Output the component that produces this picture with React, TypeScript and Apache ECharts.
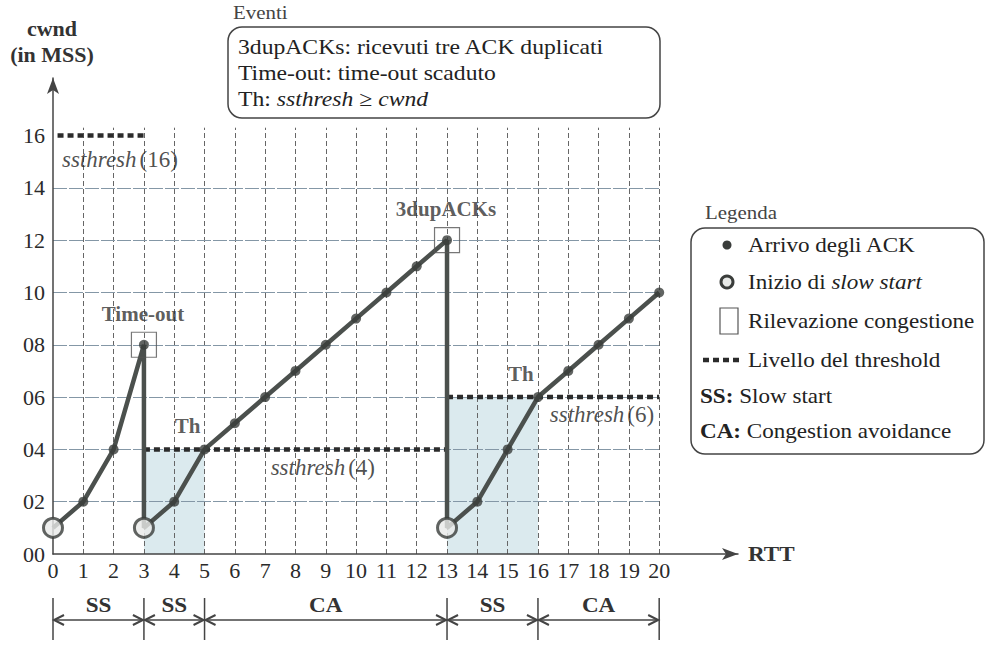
import React, { useEffect, useRef } from "react";
import * as echarts from "echarts";

// ---- data ----
const cwndX = [0, 1, 2, 3, 3, 4, 5, 6, 7, 8, 9, 10, 11, 12, 13, 13, 14, 15, 16, 17, 18, 19, 20];
const cwndY = [1, 2, 4, 8, 1, 2, 4, 5, 6, 7, 8, 9, 10, 11, 12, 1, 2, 4, 6, 7, 8, 9, 10];
const slowStartStarts = [[0, 1], [3, 1], [13, 1]];
const congestionEvents = [[3, 8], [13, 12]];
const congestionLabels = ["Time-out", "3dupACKs"];
const thresholdFrom = [0, 3, 13];
const thresholdTo = [3, 13, 20];
const thresholdValue = [16, 4, 6];
const thPoints = [[5, 4], [16, 6]];
const shadedFrom = [3, 13];
const shadedTo = [5, 16];
const shadedTop = [4, 6];
const phaseFrom = [0, 3, 5, 13, 16];
const phaseTo = [3, 5, 13, 16, 20];
const phaseLabel = ["SS", "SS", "CA", "SS", "CA"];
const xTicks = [0, 1, 2, 3, 4, 5, 6, 7, 8, 9, 10, 11, 12, 13, 14, 15, 16, 17, 18, 19, 20];
const yTicks = [0, 2, 4, 6, 8, 10, 12, 14, 16];
const gridLinesY = [2, 4, 6, 8, 10, 12, 14];

const FONT = "'Liberation Serif', serif";
const SX = 1.1;
const INK = "#222";

export default function App() {
  const ref = useRef<HTMLDivElement>(null);
  useEffect(() => {
    const chart = echarts.init(ref.current!, null, { renderer: "svg" });
    const ackPoints: number[][] = [];
    cwndX.forEach((x, i) => {
      const y = cwndY[i];
      if (!slowStartStarts.some((p) => p[0] === x && p[1] === y)) ackPoints.push([x, y]);
    });
    const xMax = 20;
    const option: any = {
      animation: false,
      textStyle: { fontFamily: FONT },
      grid: { left: 53, right: 258, top: 78, bottom: 93 },
      xAxis: {
        type: "value",
        min: 0,
        max: 22.6,
        interval: 1,
        axisLine: {
          lineStyle: { color: "#444", width: 1.5 },
          symbol: ["none", "arrow"],
          symbolSize: [9, 16],
        },
        axisTick: { show: false },
        splitLine: { show: false },
        axisLabel: {
          showMaxLabel: false,
          color: "#2a2a2a",
          fontSize: 22,
          fontFamily: FONT,
          margin: 5,
          formatter: (v: number) => (xTicks.includes(v) ? String(v) : ""),
        },
      },
      yAxis: {
        type: "value",
        min: 0,
        max: 18.2,
        interval: 2,
        axisLine: {
          lineStyle: { color: "#444", width: 1.5 },
          symbol: ["none", "arrow"],
          symbolSize: [9, 16],
        },
        axisTick: { show: false },
        splitLine: { show: false },
        axisLabel: {
          showMaxLabel: false,
          color: "#2a2a2a",
          fontSize: 22,
          fontFamily: FONT,
          margin: 8,
          formatter: (v: number) => (yTicks.includes(v) ? String(v).padStart(2, "0") : ""),
        },
      },
      series: [
        {
          name: "grid",
          type: "line",
          data: [],
          silent: true,
          z: 0,
          markArea: {
            silent: true,
            z: 0,
            itemStyle: { color: "#dbeaee" },
            data: shadedFrom.map((f, i) => [{ coord: [f, 0] }, { coord: [shadedTo[i], shadedTop[i]] }]),
          },
          markLine: {
            silent: true,
            z: 0,
            symbol: "none",
            label: { show: false },
            data: [
              ...xTicks
                .filter((x) => x > 0)
                .map((x) => [
                  { coord: [x, 0], lineStyle: { color: "#666", width: 1, type: [5, 3] } },
                  { coord: [x, 16.3] },
                ]),
              ...gridLinesY.map((y) => [
                { coord: [0, y], lineStyle: { color: "#8497a6", width: 1.2, type: [14, 2] } },
                { coord: [xMax, y] },
              ]),
            ],
          },
        },
        ...thresholdValue.map((v, i) => ({
          name: "threshold" + i,
          type: "line",
          silent: true,
          symbol: "none",
          lineStyle: { color: "#2b2b2b", width: 4.5, type: [6, 4], cap: "butt" },
          data: [
            [thresholdFrom[i] + (i === 0 ? 0.15 : 0), v],
            [thresholdTo[i], v],
          ],
          z: 5,
        })),
        {
          name: "cwnd",
          type: "line",
          silent: true,
          symbol: "none",
          lineStyle: { color: "#4b504d", width: 4.5 },
          data: cwndX.map((x, i) => [x, cwndY[i]]),
          z: 6,
        },
        {
          name: "ack",
          type: "scatter",
          silent: true,
          symbol: "circle",
          symbolSize: 10,
          itemStyle: { color: "#3a3d3b" },
          data: ackPoints,
          z: 7,
        },
        {
          name: "slowstart",
          type: "scatter",
          silent: true,
          symbol: "circle",
          symbolSize: 19,
          itemStyle: { color: "#e8eae8", borderColor: "#3a3d3b", borderWidth: 3 },
          data: slowStartStarts,
          z: 8,
        },
        {
          name: "congestion",
          type: "scatter",
          silent: true,
          symbol: "rect",
          symbolSize: 25,
          itemStyle: { color: "rgba(0,0,0,0)", borderColor: "#555", borderWidth: 1.2 },
          label: {
            show: true,
            position: "inside",
            offset: [-1, -31],
            formatter: (p: any) => congestionLabels[p.dataIndex],
            color: "#333",
            fontSize: 21,
            fontWeight: "bold",
            fontFamily: FONT,
          },
          data: congestionEvents,
          z: 8,
        },
        {
          name: "th",
          type: "scatter",
          silent: true,
          symbolSize: 0,
          label: {
            show: true,
            position: "inside",
            offset: [-17, -23],
            formatter: "Th",
            color: "#333",
            fontSize: 21,
            fontWeight: "bold",
            fontFamily: FONT,
          },
          data: thPoints,
          z: 8,
        },
        {
          name: "ssthreshLabels",
          type: "scatter",
          silent: true,
          symbolSize: 0,
          data: thresholdValue.map((v, i) => {
            const cfg = [
              { x: thresholdFrom[0], align: "left", offset: [9, 24] },
              { x: thresholdTo[1], align: "right", offset: [-72, 18] },
              { x: thresholdTo[2], align: "right", offset: [-5, 17] },
            ][i];
            return {
              value: [cfg.x, v],
              label: {
                show: true,
                position: "inside",
                align: cfg.align,
                offset: cfg.offset,
                formatter: `{i|ssthresh} {n|(${v})}`,
                rich: {
                  i: { fontStyle: "italic", fontSize: 23, color: INK, fontFamily: FONT },
                  n: { fontSize: 23, color: INK, fontFamily: FONT },
                },
              },
            };
          }),
          z: 8,
        },
      ],
    };
    chart.setOption(option);

    // bottom phase arrows, computed from the axis scale
    const yBase = chart.convertToPixel({ gridIndex: 0 }, [0, 0])[1];
    const g: any[] = [];
    const lineStyle = { stroke: "#444", lineWidth: 1.5, fill: "none" };
    const ay = yBase + 66;
    const bounds = Array.from(new Set([...phaseFrom, ...phaseTo]));
    bounds.forEach((b) => {
      const px = chart.convertToPixel({ gridIndex: 0 }, [b, 0])[0];
      g.push({ type: "line", shape: { x1: px, y1: yBase + 44, x2: px, y2: yBase + 86 }, style: lineStyle });
    });
    phaseFrom.forEach((f, i) => {
      const x1 = chart.convertToPixel({ gridIndex: 0 }, [f, 0])[0];
      const x2 = chart.convertToPixel({ gridIndex: 0 }, [phaseTo[i], 0])[0];
      g.push({ type: "line", shape: { x1: x1 + 1, y1: ay, x2: x2 - 1, y2: ay }, style: lineStyle });
      g.push({
        type: "polyline",
        shape: { points: [[x1 + 11, ay - 5], [x1 + 1, ay], [x1 + 11, ay + 5]] },
        style: { ...lineStyle, lineWidth: 2 },
      });
      g.push({
        type: "polyline",
        shape: { points: [[x2 - 11, ay - 5], [x2 - 1, ay], [x2 - 11, ay + 5]] },
        style: { ...lineStyle, lineWidth: 2 },
      });
      g.push({
        type: "text",
        x: (x1 + x2) / 2,
        y: yBase + 51,
        scaleX: SX,
        style: {
          text: phaseLabel[i],
          align: "center",
          verticalAlign: "middle",
          fontFamily: FONT,
          fontSize: 21,
          fontWeight: "bold",
          fill: "#333",
        },
      });
    });

    const txt = (text: string, x: number, y: number, size: number, weight: string, extra: any = {}) => ({
      type: "text",
      x,
      y,
      scaleX: SX,
      style: {
        text,
        fontFamily: FONT,
        fontSize: size,
        fontWeight: weight,
        fill: INK,
        verticalAlign: "middle",
        ...extra,
      },
    });

    // axis titles
    g.push(txt("cwnd", 52, 29, 20, "bold", { align: "center", fill: "#333" }));
    g.push(txt("(in MSS)", 52, 55, 20, "bold", { align: "center", fill: "#333" }));
    g.push(txt("RTT", 748, 554, 21, "bold", { align: "left", fill: "#333" }));

    // events box
    g.push(txt("Eventi", 233, 12, 19, "normal", { fill: "#444" }));
    g.push({
      type: "rect",
      shape: { x: 228, y: 27, width: 432, height: 91, r: 14 },
      style: { fill: "none", stroke: "#444", lineWidth: 1.5 },
    });
    g.push(txt("3dupACKs: ricevuti tre ACK duplicati", 238, 47, 21.5, "normal"));
    g.push(txt("Time-out: time-out scaduto", 238, 73, 21.5, "normal"));
    const richN = { fontSize: 21.5, fontFamily: FONT, fill: INK };
    const richI = { fontSize: 21.5, fontFamily: FONT, fontStyle: "italic", fill: INK };
    const richB = { fontSize: 21, fontFamily: FONT, fontWeight: "bold", fill: INK };
    const richN2 = { fontSize: 21, fontFamily: FONT, fill: INK };
    const richI2 = { fontSize: 21, fontFamily: FONT, fontStyle: "italic", fill: INK };
    g.push({
      type: "text",
      x: 238,
      y: 99,
      scaleX: SX,
      style: {
        text: "{n|Th:} {i|ssthresh} {n|≥} {i|cwnd}",
        verticalAlign: "middle",
        fontFamily: FONT,
        fontSize: 21.5,
        rich: { n: richN, i: richI },
      },
    });

    // legend box
    g.push(txt("Legenda", 705, 212, 19, "normal", { fill: "#444" }));
    g.push({
      type: "rect",
      shape: { x: 691, y: 228, width: 293, height: 226, r: 14 },
      style: { fill: "none", stroke: "#444", lineWidth: 1.5 },
    });
    g.push({ type: "circle", shape: { cx: 727, cy: 245, r: 4.5 }, style: { fill: "#3a3d3b" } });
    g.push(txt("Arrivo degli ACK", 748, 245, 21, "normal"));
    g.push({
      type: "circle",
      shape: { cx: 727, cy: 282, r: 6 },
      style: { fill: "#e8eae8", stroke: "#3a3d3b", lineWidth: 3 },
    });
    g.push({
      type: "text",
      x: 748,
      y: 282,
      scaleX: SX,
      style: {
        text: "{n|Inizio di} {i|slow start}",
        verticalAlign: "middle",
        fontFamily: FONT,
        fontSize: 21,
        rich: { n: richN2, i: richI2 },
      },
    });
    g.push({
      type: "rect",
      shape: { x: 720, y: 308, width: 18, height: 26 },
      style: { fill: "none", stroke: "#555", lineWidth: 1.2 },
    });
    g.push(txt("Rilevazione congestione", 748, 321, 21, "normal"));
    g.push({
      type: "line",
      shape: { x1: 703, y1: 360, x2: 740, y2: 360 },
      style: { stroke: "#2b2b2b", lineWidth: 4.5, lineDash: [6, 4] },
    });
    g.push(txt("Livello del threshold", 748, 360, 21, "normal"));
    g.push({
      type: "text",
      x: 700,
      y: 396,
      scaleX: SX,
      style: {
        text: "{b|SS:} {n|Slow start}",
        verticalAlign: "middle",
        fontFamily: FONT,
        fontSize: 21,
        rich: { b: richB, n: richN2 },
      },
    });
    g.push({
      type: "text",
      x: 700,
      y: 431,
      scaleX: SX,
      style: {
        text: "{b|CA:} {n|Congestion avoidance}",
        verticalAlign: "middle",
        fontFamily: FONT,
        fontSize: 21,
        rich: { b: richB, n: richN2 },
      },
    });

    chart.setOption({ graphic: g });
    return () => chart.dispose();
  }, []);
  return (
    <div
      ref={ref}
      style={{ position: "fixed", left: 0, top: 0, width: 996, height: 647, background: "#fff" }}
    />
  );
}
